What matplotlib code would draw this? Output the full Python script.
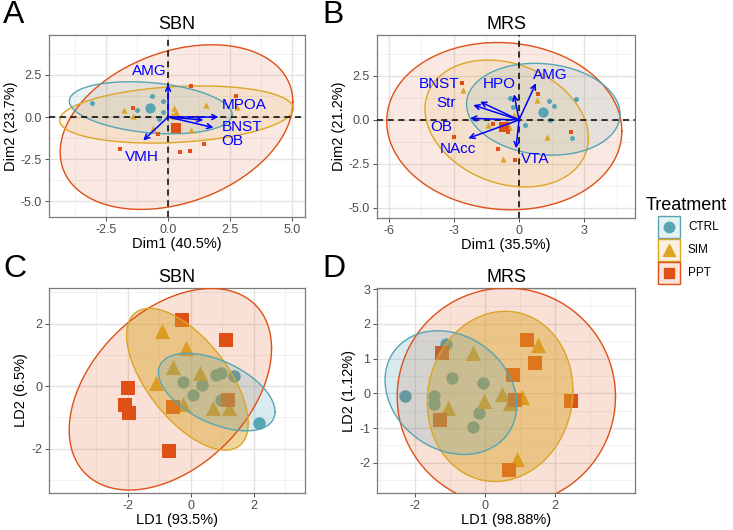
import numpy as np
import matplotlib
matplotlib.use("Agg")
import matplotlib.pyplot as plt
from matplotlib.patches import Rectangle
from matplotlib.lines import Line2D

plt.rcParams['font.family'] = ['Liberation Sans', 'DejaVu Sans']

groups = ["CTRL", "SIM", "PPT"]
colors = ["#55A5B5", "#DCA526", "#DE5016"]
markers = ["o", "^", "s"]

# ---- A: PCA, SBN
pca_sbn_ctrl = [(-3.08, 0.86), (-1.26, 0.44), (-0.66, 1.25), (-0.19, 0.95), (-0.19, 0.30), (-0.36, -0.10)]
pca_sbn_sim = [(-1.76, 0.44), (-1.40, 0.06), (-0.59, -0.63), (0.25, 0.56), (1.52, 0.74),
               (0.91, -0.79), (1.12, 0.0), (2.77, 0.60), (0.15, 0.10)]
pca_sbn_ppt = [(0.91, 1.85), (2.75, 1.23), (-1.40, 0.56), (-0.42, -0.99), (-1.94, -1.92),
               (0.48, -2.08), (0.89, -2.02), (1.45, -1.62)]
pca_sbn_means = [(-0.72, 0.56), (0.32, 0.20), (0.32, -0.63)]
pca_sbn_vars = ["AMG", "MPOA", "BNST", "OB", "VMH"]
pca_sbn_load = [(0.0, 1.93), (2.03, 0.0), (1.83, -0.63), (1.42, -0.18), (-1.00, -1.39)]
pca_sbn_lab = [(-0.74, 2.74), (3.07, 0.70), (3.00, -0.62), (2.58, -1.43), (-1.05, -2.35)]
pca_sbn_ell_c = [(-0.70, 0.55), (0.34, 0.15), (0.34, -0.60)]
pca_sbn_ell_cov = [(10.76, -1.3, 2.4), (22.2, 1.65, 2.89), (22.0, 7.0, 24.0)]

# ---- B: PCA, MRS
pca_mrs_ctrl = [(-0.42, 1.26), (-0.29, 0.75), (0.26, -0.30), (1.40, 1.09), (1.63, 0.79),
                (1.43, 0.0), (2.62, 1.22), (2.43, -1.00)]
pca_mrs_sim = [(-2.57, 1.69), (0.85, 1.13), (-0.22, 0.28), (-1.42, -0.28), (-0.80, -0.34),
               (1.28, -0.94), (-0.75, -2.22)]
pca_mrs_ppt = [(-2.65, 2.12), (0.86, 1.47), (-2.98, -0.98), (-1.18, -0.24), (-0.49, -0.71),
               (-0.98, -1.65), (-0.17, -2.29), (2.38, -0.70)]
pca_mrs_means = [(1.09, 0.47), (-0.55, -0.30), (-0.68, -0.41)]
pca_mrs_vars = ["BNST", "Str", "OB", "NAcc", "HPO", "AMG", "VTA"]
pca_mrs_load = [(-1.80, 1.04), (-2.11, 0.85), (-2.26, 0.10), (-2.34, -1.04),
                (-0.23, 1.46), (0.78, 2.09), (-0.14, -1.61)]
pca_mrs_lab = [(-3.71, 2.06), (-3.37, 0.97), (-3.58, -0.42), (-2.80, -1.65),
               (-0.92, 2.06), (1.45, 2.58), (0.74, -2.22)]
pca_mrs_ell_c = [(1.12, 0.61), (-0.57, -0.20), (-0.68, -0.35)]
pca_mrs_ell_cov = [(12.53, -1.0, 6.81), (14.2, -3.1, 13.0), (29.4, -1.5, 22.6)]

# ---- C: LDA, SBN
lda_sbn_ctrl = [(-0.26, 0.14), (0.07, -0.27), (0.36, 0.03), (0.81, 0.37), (0.94, 0.41),
                (1.38, 0.32), (0.97, -0.45), (2.16, -1.19)]
lda_sbn_sim = [(-0.91, 1.76), (-0.16, 1.23), (-0.56, 0.62), (0.29, 0.43), (-1.11, 0.11),
               (-0.26, -0.58), (0.71, -0.69), (1.22, -0.69)]
lda_sbn_ppt = [(-0.29, 2.13), (1.11, 1.49), (-2.01, -0.05), (-2.10, -0.59), (-1.96, -0.85),
               (-0.56, -0.68), (1.19, -0.45), (-0.69, -2.07)]
lda_sbn_ell_c = [(0.82, -0.19), (-0.11, 0.22), (-0.65, -0.10)]
lda_sbn_ell_cov = [(3.42, -1.16, 1.54), (3.72, -2.72, 5.15), (10.3, 4.2, 10.4)]

# ---- D: LDA, MRS
lda_mrs_ctrl = [(-2.30, -0.07), (-1.12, 1.42), (-1.46, -0.07), (-1.46, -0.31), (-0.94, 0.45),
                (-0.05, 0.29), (-0.17, -0.58), (-0.34, -0.98)]
lda_mrs_sim = [(-0.35, 1.15), (1.53, 1.39), (-1.06, -0.43), (-0.02, -0.21), (0.48, -0.02),
               (1.06, -0.12), (0.72, -0.27), (0.91, -1.88)]
lda_mrs_ppt = [(-1.25, 1.17), (1.20, 1.54), (1.42, 0.87), (0.79, 0.53), (0.86, -0.19),
               (2.45, -0.21), (-1.30, -0.77), (0.70, -2.21)]
lda_mrs_ell_c = [(-0.98, 0.02), (0.43, -0.09), (0.61, -0.10)]
lda_mrs_ell_cov = [(3.57, -0.67, 3.17), (4.37, 0.35, 6.0), (9.8, 0.0, 9.8)]


def ellipse(ax, c, cov, color, alpha, z):
    sxx, sxy, syy = cov
    L = np.linalg.cholesky(np.array([[sxx, sxy], [sxy, syy]]))
    t = np.linspace(0, 2 * np.pi, 300)
    pts = np.array(c)[:, None] + L @ np.vstack([np.cos(t), np.sin(t)])
    ax.fill(pts[0], pts[1], facecolor=color, alpha=alpha, edgecolor='none', zorder=z)
    ax.plot(pts[0], pts[1], color=color, lw=1.0, zorder=z + 0.1)


def style(ax, xlim, ylim, xmaj, ymaj, xmin, ymin, xlab, ylab, title, xfmt, yfmt):
    ax.set_xlim(xlim)
    ax.set_ylim(ylim)
    ax.set_xticks(xmaj)
    ax.set_yticks(ymaj)
    ax.set_xticklabels([xfmt.format(v) for v in xmaj])
    ax.set_yticklabels([yfmt.format(v) for v in ymaj])
    for v in xmin:
        ax.axvline(v, color="#EFEFEF", lw=0.6, zorder=0)
    for v in ymin:
        ax.axhline(v, color="#EFEFEF", lw=0.6, zorder=0)
    for v in xmaj:
        ax.axvline(v, color="#E3E3E3", lw=1.0, zorder=0)
    for v in ymaj:
        ax.axhline(v, color="#E3E3E3", lw=1.0, zorder=0)
    ax.tick_params(labelsize=9, labelcolor="#4D4D4D", color="#333333", length=3, width=0.6, pad=2)
    for s in ax.spines.values():
        s.set_color("#7A7A7A")
        s.set_linewidth(0.9)
    ax.set_xlabel(xlab, fontsize=10.5, labelpad=1)
    ax.set_ylabel(ylab, fontsize=10.5, labelpad=2)
    ax.set_title(title, fontsize=13, pad=4)


fig = plt.figure(figsize=(7.33, 5.30), dpi=100)
W, H = 733, 530


def add_ax(l, r, t, b):
    return fig.add_axes([l / W, 1 - b / H, (r - l) / W, (b - t) / H])


axA = add_ax(49, 305, 35, 217)
axB = add_ax(377, 635, 35, 218)
axC = add_ax(49, 305, 288, 493)
axD = add_ax(377, 635, 288, 493)


def pca_panel(ax, pts, means, ell_c, ell_cov, vars_, load, lab):
    ax.axhline(0, color="black", ls=(0, (4, 3)), lw=1.1, zorder=3)
    ax.axvline(0, color="black", ls=(0, (4, 3)), lw=1.1, zorder=3)
    for g in range(3):
        xy = np.array(pts[g])
        sz = [13, 20, 12][g]
        ax.scatter(xy[:, 0], xy[:, 1], s=sz, marker=markers[g], color=colors[g],
                   linewidths=0, zorder=2)
        ax.scatter([means[g][0]], [means[g][1]], s=[55, 60, 50][g], marker=markers[g],
                   color=colors[g], linewidths=0, zorder=2)
    for g in [2, 1, 0]:
        ellipse(ax, ell_c[g], ell_cov[g], colors[g], 0.12, 1.5)
    for name, (x, y), (lx, ly) in zip(vars_, load, lab):
        ax.annotate("", xy=(x, y), xytext=(0, 0),
                    arrowprops=dict(arrowstyle="->", color="blue", lw=1.1,
                                    mutation_scale=9, shrinkA=0, shrinkB=0), zorder=4)
        ax.text(lx, ly, name, color="blue", fontsize=11, ha="center", va="center", zorder=5)


def lda_panel(ax, pts, ell_c, ell_cov):
    for g in range(3):
        xy = np.array(pts[g])
        sz = [80, 120, 90][g]
        ax.scatter(xy[:, 0], xy[:, 1], s=sz, marker=markers[g], color=colors[g],
                   linewidths=0, zorder=2)
    for g in [2, 1, 0]:
        ellipse(ax, ell_c[g], ell_cov[g], colors[g], [0.22, 0.45, 0.17][g], 3)


pca_panel(axA, [pca_sbn_ctrl, pca_sbn_sim, pca_sbn_ppt], pca_sbn_means,
          pca_sbn_ell_c, pca_sbn_ell_cov, pca_sbn_vars, pca_sbn_load, pca_sbn_lab)
style(axA, (-4.8, 5.52), (-5.95, 4.88), [-2.5, 0, 2.5, 5.0], [-5.0, -2.5, 0, 2.5],
      [-3.75, -1.25, 1.25, 3.75], [-3.75, -1.25, 1.25, 3.75],
      "Dim1 (40.5%)", "Dim2 (23.7%)", "SBN", "{:.1f}", "{:.1f}")

pca_panel(axB, [pca_mrs_ctrl, pca_mrs_sim, pca_mrs_ppt], pca_mrs_means,
          pca_mrs_ell_c, pca_mrs_ell_cov, pca_mrs_vars, pca_mrs_load, pca_mrs_lab)
style(axB, (-6.55, 5.35), (-5.57, 4.83), [-6, -3, 0, 3], [-5.0, -2.5, 0, 2.5],
      [-4.5, -1.5, 1.5, 4.5], [-3.75, -1.25, 1.25, 3.75],
      "Dim1 (35.5%)", "Dim2 (21.2%)", "MRS", "{:.0f}", "{:.1f}")

lda_panel(axC, [lda_sbn_ctrl, lda_sbn_sim, lda_sbn_ppt], lda_sbn_ell_c, lda_sbn_ell_cov)
style(axC, (-4.5, 3.62), (-3.42, 3.14), [-2, 0, 2], [-2, 0, 2],
      [-3, -1, 1, 3], [-3, -1, 1, 3],
      "LD1 (93.5%)", "LD2 (6.5%)", "SBN", "{:.0f}", "{:.0f}")

lda_panel(axD, [lda_mrs_ctrl, lda_mrs_sim, lda_mrs_ppt], lda_mrs_ell_c, lda_mrs_ell_cov)
style(axD, (-3.1, 4.3), (-2.87, 3.03), [-2, 0, 2], [-2, -1, 0, 1, 2, 3],
      [-3, -1, 1, 3], [-2.5, -1.5, -0.5, 0.5, 1.5, 2.5],
      "LD1 (98.88%)", "LD2 (1.12%)", "MRS", "{:.0f}", "{:.0f}")

for lab, x, y in [("A", 3, 0), ("B", 322, 0), ("C", 3, 254), ("D", 322, 254)]:
    fig.text(x / W, 1 - y / H, lab, fontsize=23, ha="left", va="top")

# legend, drawn by hand so the keys sit like ggplot's
fig.text(646 / W, 1 - 205 / H, "Treatment", fontsize=13, ha="left", va="center")
for g, name in enumerate(groups):
    yc = 227 + 23 * g
    fig.add_artist(Rectangle((658 / W, 1 - (yc + 11) / H), 22 / W, 22 / H,
                             transform=fig.transFigure,
                             facecolor=matplotlib.colors.to_rgba(colors[g], 0.15),
                             edgecolor=colors[g], linewidth=1.0))
    fig.add_artist(Line2D([669 / W], [1 - yc / H], transform=fig.transFigure,
                          marker=markers[g], color=colors[g], ls="none",
                          markersize=[7.5, 8.5, 7][g]))
    fig.text(688 / W, 1 - yc / H, name, fontsize=8.5, ha="left", va="center")

fig.savefig("out.png", dpi=100)
